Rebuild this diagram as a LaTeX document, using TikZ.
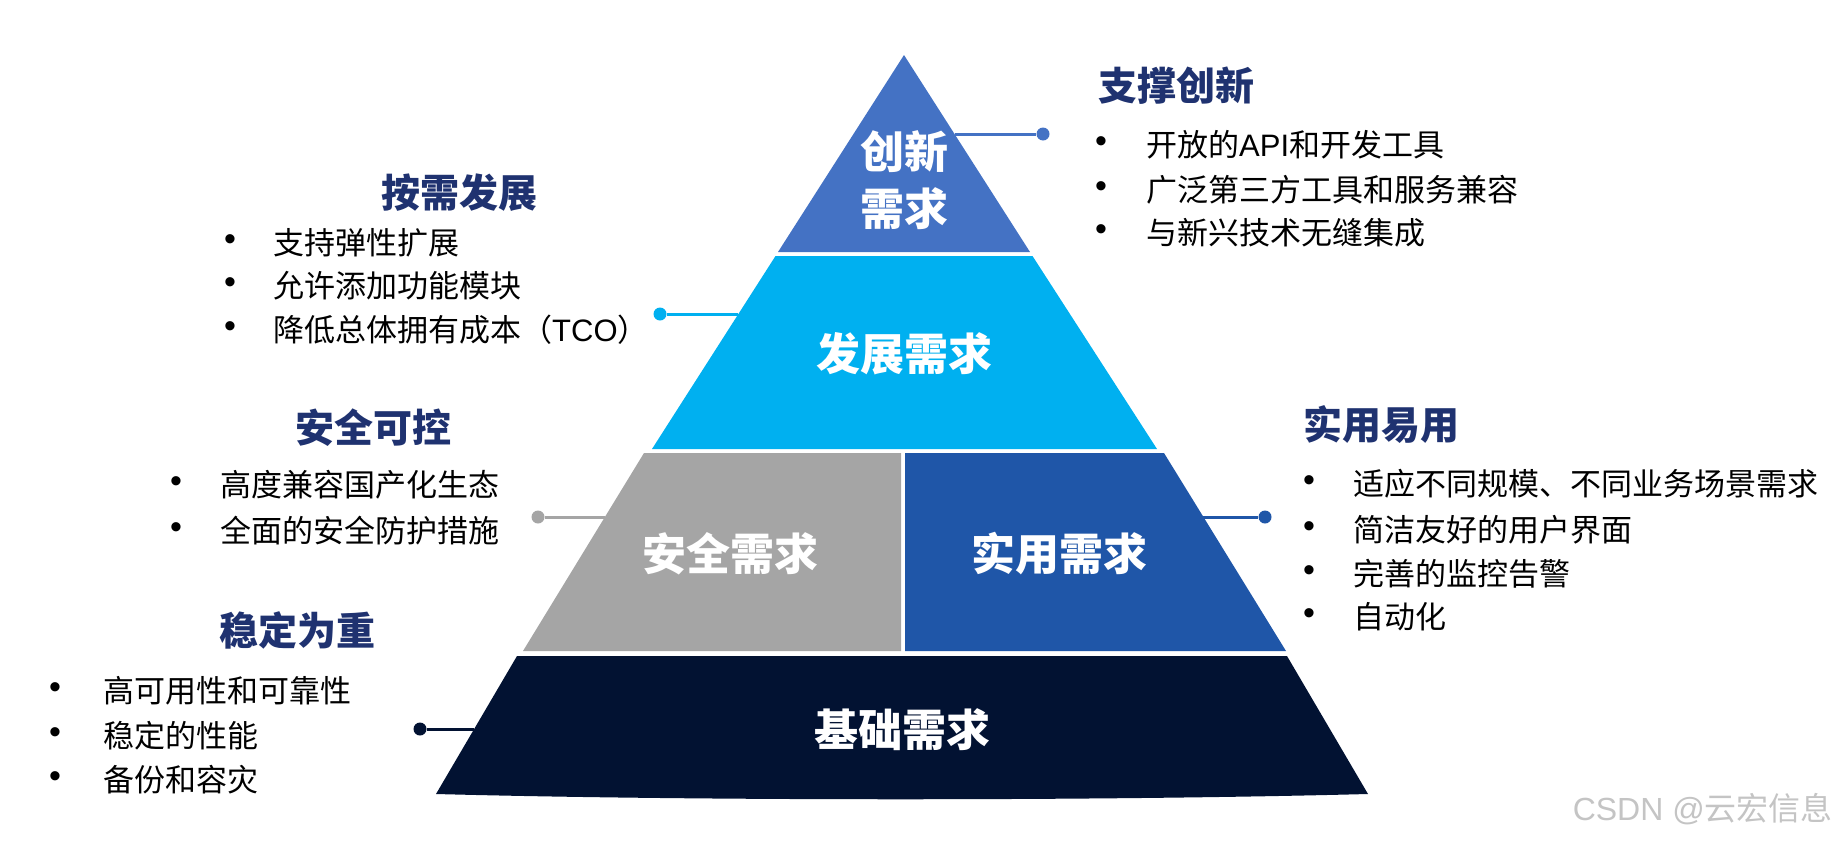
\documentclass[tikz,border=0pt]{standalone}
\usepackage{fontspec}
\setmainfont{Noto Sans CJK SC}
\newfontfamily\bulfont{Liberation Sans}
\definecolor{ctop}{HTML}{4472C4}
\definecolor{ccyan}{HTML}{00B0F0}
\definecolor{cgrey}{HTML}{A5A5A5}
\definecolor{cblue}{HTML}{1F56A8}
\definecolor{cdark}{HTML}{021232}
\definecolor{headc}{HTML}{1F3270}
\definecolor{wmark}{HTML}{C4C4C4}
\begin{document}
\begin{tikzpicture}[x=1pt,y=-1pt,
  lbl/.style={font=\fontsize{44}{54}\selectfont\bfseries, text=white, inner sep=0, align=center},
  head/.style={font=\fontsize{39}{44}\selectfont\bfseries, text=headc, inner sep=0},
  item/.style={font=\fontsize{31}{35}\selectfont, text=black, inner sep=0, anchor=west},
  bul/.style={font=\bulfont\fontsize{34}{38}\selectfont, text=black, inner sep=0},
  dotn/.style={circle, fill=#1, inner sep=0, minimum size=13pt},
  conn/.style={draw=#1, line width=3pt}
]
\useasboundingbox (0,0) rectangle (1837,841);

% pyramid bands
\fill[ctop] (904,55) -- (1030,252) -- (778,252) -- cycle;
\fill[ccyan] (775.5,256) -- (1032.5,256) -- (1157,449) -- (652,449) -- cycle;
\fill[cgrey] (644,453) -- (901,453) -- (901,651) -- (523,651) -- cycle;
\fill[cblue] (905,453) -- (1164,453) -- (1286,651) -- (905,651) -- cycle;
\fill[cdark] (517,656) -- (1287,656) -- (1368,794) .. controls (1100,801) and (700,801) .. (436,794) -- cycle;

% edge anchor points
\coordinate (e1) at (954.5,134);
\coordinate (e2) at (738,314);
\coordinate (e3) at (605,517);
\coordinate (e4) at (1203,517);
\coordinate (e5) at (474,729);

% dots
\node[dotn=ctop] (d1) at (1043,134) {};
\node[dotn=ccyan] (d2) at (660,314) {};
\node[dotn=cgrey] (d3) at (538,517) {};
\node[dotn=cblue] (d4) at (1265,517) {};
\node[dotn=cdark] (d5) at (420,729) {};

\draw[conn=ctop] (e1) -- (d1);
\draw[conn=ccyan] (e2) -- (d2);
\draw[conn=cgrey] (e3) -- (d3);
\draw[conn=cblue] (e4) -- (d4);
\draw[conn=cdark] (e5) -- (d5);

% pyramid labels
\node[lbl] (l1a) at (904,152) {创新};
\node[lbl] (l1b) at (904,209) {需求};
\node[lbl] (l2) at (904,354) {发展需求};
\node[lbl] (l3) at (730,554) {安全需求};
\node[lbl] (l4) at (1059,554) {实用需求};
\node[lbl] (l5) at (902,730) {基础需求};

% top right block
\node[head, anchor=west] (h1) at (1098,86) {支撑创新};
\node[bul] (b11) at (1101,145) {•};
\node[item] (t11) at (1146,145) {开放的{\bulfont API}和开发工具};
\node[bul] (b12) at (1101,190) {•};
\node[item] (t12) at (1146,190) {广泛第三方工具和服务兼容};
\node[bul] (b13) at (1101,233) {•};
\node[item] (t13) at (1146,233) {与新兴技术无缝集成};

% left block 2
\node[head] (h2) at (459,193) {按需发展};
\node[bul] (b21) at (230,243) {•};
\node[item] (t21) at (273,243) {支持弹性扩展};
\node[bul] (b22) at (230,286) {•};
\node[item] (t22) at (273,286) {允许添加功能模块};
\node[bul] (b23) at (230,330) {•};
\node[item] (t23) at (273,330) {降低总体拥有成本（{\bulfont TCO}）};

% left block 3
\node[head] (h3) at (373,428) {安全可控};
\node[bul] (b31) at (176,485) {•};
\node[item] (t31) at (220,485) {高度兼容国产化生态};
\node[bul] (b32) at (176,531) {•};
\node[item] (t32) at (220,531) {全面的安全防护措施};

% right block 4
\node[head, anchor=west] (h4) at (1303,425) {实用易用};
\node[bul] (b41) at (1309,484) {•};
\node[item] (t41) at (1353,484) {适应不同规模、不同业务场景需求};
\node[bul] (b42) at (1309,530) {•};
\node[item] (t42) at (1353,530) {简洁友好的用户界面};
\node[bul] (b43) at (1309,574) {•};
\node[item] (t43) at (1353,574) {完善的监控告警};
\node[bul] (b44) at (1309,617) {•};
\node[item] (t44) at (1353,617) {自动化};

% left block 5
\node[head] (h5) at (297,630) {稳定为重};
\node[bul] (b51) at (55,691) {•};
\node[item] (t51) at (103,691) {高可用性和可靠性};
\node[bul] (b52) at (55,736) {•};
\node[item] (t52) at (103,736) {稳定的性能};
\node[bul] (b53) at (55,780) {•};
\node[item] (t53) at (103,780) {备份和容灾};

% watermark
\node[font=\fontsize{32}{36}\selectfont, text=wmark, inner sep=0, anchor=east] (wm) at (1833,809) {{\bulfont CSDN @}云宏信息};
\end{tikzpicture}
\end{document}
